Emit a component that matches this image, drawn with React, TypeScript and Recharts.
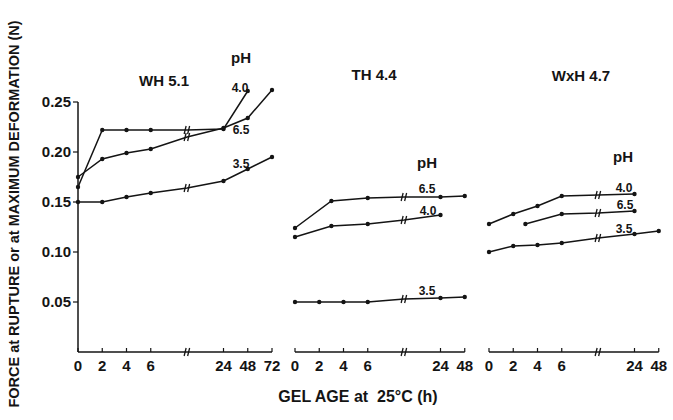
import React from 'react'
import { LineChart, Line, XAxis, YAxis, ReferenceLine, ReferenceDot } from 'recharts'

const FONT = '"Liberation Sans", Arial, Helvetica, sans-serif'
const INK = '#141414'

// gel age in hours, '//' marks the axis break
const whHours = [0, 2, 4, 6, '//', 24, 48, 72]
const whPH40 = [0.165, 0.222, 0.222, 0.222, 0.222, 0.223, 0.261, null]
const whPH65 = [0.175, 0.193, 0.199, 0.203, 0.215, 0.224, 0.234, 0.262]
const whPH35 = [0.15, 0.15, 0.155, 0.159, 0.164, 0.171, 0.183, 0.195]

const thHours = [0, 2, 3, 4, 6, '//', 24, 48]
const thPH65 = [0.124, null, 0.151, null, 0.154, 0.155, 0.155, 0.156]
const thPH40 = [0.115, null, 0.126, null, 0.128, 0.132, 0.137, null]
const thPH35 = [0.05, 0.05, null, 0.05, 0.05, 0.053, 0.054, 0.055]

const wxhHours = [0, 2, 3, 4, 6, '//', 24, 48]
const wxhPH40 = [0.128, 0.138, null, 0.146, 0.156, 0.157, 0.158, null]
const wxhPH65 = [null, null, 0.128, null, 0.138, 0.139, 0.141, null]
const wxhPH35 = [0.1, 0.106, null, 0.107, 0.109, 0.114, 0.118, 0.121]

const whTicks = ['0', '2', '4', '6', '24', '48', '72']
const shortTicks = ['0', '2', '4', '6', '24', '48']
const yTicks = [0.05, 0.1, 0.15, 0.2, 0.25]

// broken time axis: 0-6 h evenly, then 24, 48, 72
const axisPos = (h: number | string) => {
  if (h === '//') return 4.5
  const n = Number(h)
  if (n <= 6) return n / 2
  return n === 24 ? 6 : n === 48 ? 7 : 8
}

const buildRows = (hours: (number | string)[], a: any[], b: any[], c: any[]) =>
  hours.map((h, i) => ({ pos: axisPos(h), isBreak: h === '//', a: a[i], b: b[i], c: c[i] }))

const dotShape = (props: any) => {
  const { cx, cy, payload, value, index, dataKey } = props
  const k = `${dataKey}-${index}`
  if (value == null || cx == null || cy == null) return <g key={k} />
  if (payload.isBreak) {
    return (
      <g key={k} stroke={INK} strokeWidth={1.3}>
        <line x1={cx - 3} y1={cy + 4} x2={cx - 1} y2={cy - 4} />
        <line x1={cx + 0.5} y1={cy + 4} x2={cx + 2.5} y2={cy - 4} />
      </g>
    )
  }
  return <circle key={k} cx={cx} cy={cy} r={2.2} fill={INK} />
}

const axisBreak = (props: any) => (
  <g stroke={INK} strokeWidth={1.3}>
    <line x1={props.cx - 3} y1={props.cy + 4} x2={props.cx - 1} y2={props.cy - 4} />
    <line x1={props.cx + 0.5} y1={props.cy + 4} x2={props.cx + 2.5} y2={props.cy - 4} />
  </g>
)

const tickStyle = { fontFamily: FONT, fontSize: 15, fontWeight: 700, fill: INK }

function Panel({ rows, maxPos, labels, left, width, marginLeft, showY }: any) {
  const tickPos = [0, 1, 2, 3, 6, 7, 8].filter((p) => p <= maxPos)
  return (
    <div style={{ position: 'absolute', left, top: 0 }}>
      <LineChart
        width={width}
        height={420}
        data={rows}
        margin={{ top: 72, right: width - marginLeft - (showY ? 40 : 0) - maxPos * 24.25, bottom: 38, left: marginLeft }}
      >
        <XAxis
          type="number"
          dataKey="pos"
          domain={[0, maxPos]}
          ticks={tickPos}
          tickFormatter={(v: number) => labels[tickPos.indexOf(v)]}
          interval={0}
          height={30}
          tickSize={-4}
          tickMargin={12}
          axisLine={{ stroke: INK, strokeWidth: 1.5 }}
          tickLine={{ stroke: INK, strokeWidth: 1.2 }}
          tick={tickStyle}
        />
        <YAxis
          type="number"
          domain={[0, 0.28]}
          ticks={yTicks}
          hide={!showY}
          width={40}
          axisLine={false}
          tickSize={5}
          tickMargin={2}
          tickLine={{ stroke: INK, strokeWidth: 1.2 }}
          tickFormatter={(v: number) => v.toFixed(2)}
          tick={tickStyle}
        />
        {showY && (
          <ReferenceLine
            segment={[{ x: 0, y: 0 }, { x: 0, y: 0.25 }]}
            stroke={INK}
            strokeWidth={1.5}
          />
        )}
        <ReferenceDot x={4.5} y={0} r={0} shape={axisBreak} />
        {['a', 'b', 'c'].map((k) => (
          <Line
            key={k}
            dataKey={k}
            type="linear"
            stroke={INK}
            strokeWidth={1.5}
            connectNulls
            dot={dotShape}
            activeDot={false}
            isAnimationActive={false}
          />
        ))}
      </LineChart>
    </div>
  )
}

const whRows = buildRows(whHours, whPH40, whPH65, whPH35)
const thRows = buildRows(thHours, thPH65, thPH40, thPH35)
const wxhRows = buildRows(wxhHours, wxhPH40, wxhPH65, wxhPH35)

const txt = (size: number) => ({ fontFamily: FONT, fontSize: size, fontWeight: 700, fill: INK })

export default function App() {
  return (
    <div style={{ position: 'absolute', left: 0, top: 0, width: 673, height: 420, background: '#fff' }}>
      <Panel rows={whRows} maxPos={8} labels={whTicks} left={0} width={300} marginLeft={38} showY />
      <Panel rows={thRows} maxPos={7} labels={shortTicks} left={280} width={200} marginLeft={15} />
      <Panel rows={wxhRows} maxPos={7} labels={shortTicks} left={474} width={199} marginLeft={15} />
      <svg width={673} height={420} style={{ position: 'absolute', left: 0, top: 0, pointerEvents: 'none' }}>
        <text x={14} y={214} transform="rotate(-90 14 214)" textAnchor="middle" dominantBaseline="central" style={txt(14.5)}>
          FORCE at RUPTURE or at MAXIMUM DEFORMATION (N)
        </text>
        <text x={358} y={402} textAnchor="middle" style={txt(16)} xmlSpace="preserve">
          GEL AGE at  25°C (h)
        </text>

        <text x={164} y={86} textAnchor="middle" style={txt(15)}>WH 5.1</text>
        <text x={241} y={63} textAnchor="middle" style={txt(15)}>pH</text>
        <text x={240} y={92} textAnchor="middle" style={txt(12)}>4.0</text>
        <text x={241} y={134} textAnchor="middle" style={txt(12)}>6.5</text>
        <text x={241} y={168} textAnchor="middle" style={txt(12)}>3.5</text>

        <text x={374} y={80} textAnchor="middle" style={txt(15)}>TH 4.4</text>
        <text x={427} y={168} textAnchor="middle" style={txt(15)}>pH</text>
        <text x={427} y={193} textAnchor="middle" style={txt(12)}>6.5</text>
        <text x={428} y={215} textAnchor="middle" style={txt(12)}>4.0</text>
        <text x={427} y={295} textAnchor="middle" style={txt(12)}>3.5</text>

        <text x={581} y={81} textAnchor="middle" style={txt(15)}>WxH 4.7</text>
        <text x={623} y={162} textAnchor="middle" style={txt(15)}>pH</text>
        <text x={624} y={192} textAnchor="middle" style={txt(12)}>4.0</text>
        <text x={625} y={209} textAnchor="middle" style={txt(12)}>6.5</text>
        <text x={624} y={233} textAnchor="middle" style={txt(12)}>3.5</text>
      </svg>
    </div>
  )
}
